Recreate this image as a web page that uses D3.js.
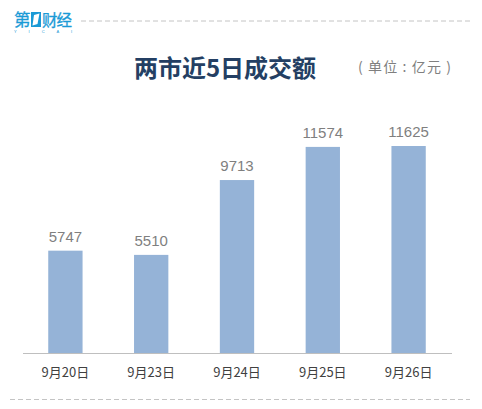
<!DOCTYPE html>
<html>
<head>
<meta charset="utf-8">
<script src="https://cdn.jsdelivr.net/npm/d3@7"></script>
<style>
html, body { margin: 0; padding: 0; background: #fff; }
svg { display: block; }
</style>
</head>
<body>
<div id="chart"></div>
<script>
var dates = ["9月20日", "9月23日", "9月24日", "9月25日", "9月26日"];
var turnover = [5747, 5510, 9713, 11574, 11625];

var width = 482, height = 409;
var cjk = '"Noto Sans CJK SC", sans-serif';

var svg = d3.select("#chart").append("svg")
    .attr("width", width)
    .attr("height", height);

var x = d3.scaleBand().domain(dates).range([22.5, 451.5]).paddingInner(0.6).paddingOuter(0.3);
var y = d3.scaleLinear().domain([0, 11625]).range([353, 146]);

// dashed frame lines
svg.append("line").attr("x1", 81).attr("x2", 470).attr("y1", 21).attr("y2", 21)
    .attr("stroke", "#c4c4c4").attr("stroke-dasharray", "5,3");
svg.append("line").attr("x1", 10).attr("x2", 470).attr("y1", 399.5).attr("y2", 399.5)
    .attr("stroke", "#c4c4c4").attr("stroke-dasharray", "5,3");

// logo
var logo = svg.append("g").attr("fill", "#1a9ad6").attr("font-family", cjk).attr("font-weight", 400);
logo.append("text").attr("x", 14).attr("y", 26).attr("font-size", 16.5).attr("stroke", "#1a9ad6").attr("stroke-width", 0.3).text("第");
logo.append("rect").attr("x", 31).attr("y", 12).attr("width", 10).attr("height", 15);
logo.append("path").attr("d", "M32.5 25.5 L34 15 L39.5 13.5 L37.5 24 Z").attr("fill", "#fff");
logo.append("text").attr("x", 42).attr("y", 26).attr("font-size", 15.5).attr("stroke", "#1a9ad6").attr("stroke-width", 0.3)
    .attr("textLength", 30).text("财经");
logo.append("text").attr("x", 14).attr("y", 33).attr("font-size", 4)
    .attr("font-family", "Liberation Sans").attr("textLength", 58).text("Y I C A I");

// title
svg.append("text").attr("x", 225).attr("y", 77).attr("text-anchor", "middle")
    .attr("font-family", cjk).attr("font-weight", 700).attr("font-size", 24)
    .attr("fill", "#243f63").text("两市近5日成交额");
svg.append("text").attr("x", 358).attr("y", 72)
    .attr("font-family", cjk).attr("font-size", 14)
    .attr("textLength", 93)
    .attr("fill", "#7f7f7f").text("( 单位 : 亿元 )");

// bars
svg.selectAll("rect.bar").data(turnover).enter().append("rect")
    .attr("class", "bar")
    .attr("x", (d, i) => x(dates[i]))
    .attr("y", d => y(d))
    .attr("width", x.bandwidth())
    .attr("height", d => y(0) - y(d))
    .attr("fill", "#95b3d7");

// value labels
svg.selectAll("text.val").data(turnover).enter().append("text")
    .attr("class", "val")
    .attr("x", (d, i) => x(dates[i]) + x.bandwidth() / 2)
    .attr("y", d => y(d) - 9)
    .attr("text-anchor", "middle")
    .attr("font-family", "Liberation Sans")
    .attr("font-size", 15)
    .attr("fill", "#7f7f7f")
    .text(d => d);

// axis
var axis = svg.append("g").attr("transform", "translate(0,353)")
    .call(d3.axisBottom(x).tickSize(0).tickPadding(15));
axis.select(".domain").attr("stroke", "#bfbfbf").attr("stroke-width", 1);
axis.selectAll("text").attr("font-family", cjk).attr("font-size", 13).attr("fill", "#404040");
</script>
</body>
</html>
